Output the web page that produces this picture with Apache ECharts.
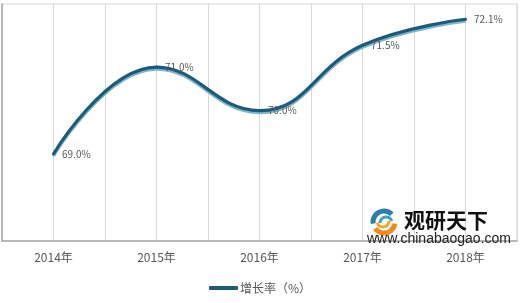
<!DOCTYPE html>
<html>
<head>
<meta charset="utf-8">
<script src="https://cdn.jsdelivr.net/npm/echarts@6/dist/echarts.min.js"></script>
<style>html,body{margin:0;padding:0;background:#fff}#c{width:520px;height:303px}</style>
</head>
<body>
<div id="c"></div>
<script>
const categories = ['2014年', '2015年', '2016年', '2017年', '2018年'];
const growthRate = [69.0, 71.0, 70.0, 71.5, 72.1];
const seriesName = '增长率（%）';
const halfSlots = categories.flatMap(c => [c + '-a', c + '-b']);

const chart = echarts.init(document.getElementById('c'), null, { renderer: 'canvas' });
const font = '"Noto Sans CJK SC", "Noto Sans", sans-serif';
chart.setOption({
  animation: false,
  textStyle: { fontFamily: font },
  grid: { left: 2, right: 3, top: 4, bottom: 62, show: true, borderColor: '#d9d9d9', borderWidth: 1 },
  xAxis: [
    {
      type: 'category', data: categories, boundaryGap: true,
      axisLine: { lineStyle: { color: '#a6a6a6', width: 1.5 } },
      axisTick: { show: false },
      axisLabel: { color: '#595959', fontSize: 12, margin: 10, fontFamily: font, interval: 0 },
      splitLine: { show: false }
    },
    {
      type: 'category', data: halfSlots, boundaryGap: true, position: 'bottom',
      axisLine: { show: false }, axisTick: { show: false, interval: 0 }, axisLabel: { show: false, interval: 0 },
      splitLine: { show: true, interval: 0, lineStyle: { color: '#d9d9d9', width: 1 } }
    }
  ],
  yAxis: {
    type: 'value', min: 67, max: 72.45,
    axisLine: { show: true, lineStyle: { color: '#a6a6a6', width: 1.5 } },
    axisTick: { show: false }, axisLabel: { show: false }, splitLine: { show: false }
  },
  legend: {
    top: 277, left: 'center', icon: 'roundRect', itemWidth: 29, itemHeight: 4, itemGap: 10,
    textStyle: { color: '#595959', fontSize: 12, fontFamily: font, padding: [0, 0, 0, -3] },
    data: [seriesName]
  },
  graphic: [
    { type: 'arc', shape: { cx: 384, cy: 222, r: 11, startAngle: Math.PI * 0.95, endAngle: Math.PI * 1.75 }, style: { stroke: '#2a7fa8', lineWidth: 5, fill: null }, z: 10 },
    { type: 'arc', shape: { cx: 386, cy: 223, r: 6, startAngle: Math.PI * 1.0, endAngle: Math.PI * 1.9 }, style: { stroke: '#3fa0c8', lineWidth: 3, fill: null }, z: 10 },
    { type: 'arc', shape: { cx: 384, cy: 222, r: 11, startAngle: Math.PI * 0.05, endAngle: Math.PI * 0.8 }, style: { stroke: '#f08c1e', lineWidth: 5, fill: null }, z: 10 },
    { type: 'arc', shape: { cx: 383, cy: 221, r: 6, startAngle: Math.PI * 0.0, endAngle: Math.PI * 0.9 }, style: { stroke: '#f5a623', lineWidth: 3, fill: null }, z: 10 },
    { type: 'text', left: 404, top: 210, style: { text: '观研天下', fill: '#111', font: 'bold 21px "Noto Sans CJK SC"' }, z: 10 },
    { type: 'text', left: 367, top: 232, style: { text: 'www.chinabaogao.com', fill: '#222', font: '14px "Liberation Sans", Arial, sans-serif' }, z: 10 }
  ],
  series: [{
    name: seriesName,
    type: 'line',
    data: growthRate,
    smooth: 0.45,
    symbol: 'circle', symbolSize: 3,
    itemStyle: { color: '#1d5b7a' },
    lineStyle: { width: 3.2, color: '#1d5b7a', shadowColor: '#80b4ca', shadowOffsetY: 2, shadowBlur: 0 },
    label: {
      show: true, position: 'right', distance: 7, color: '#595959', fontSize: 10, fontFamily: font,
      formatter: p => p.value.toFixed(1) + '%'
    }
  }]
});
</script>
</body>
</html>
